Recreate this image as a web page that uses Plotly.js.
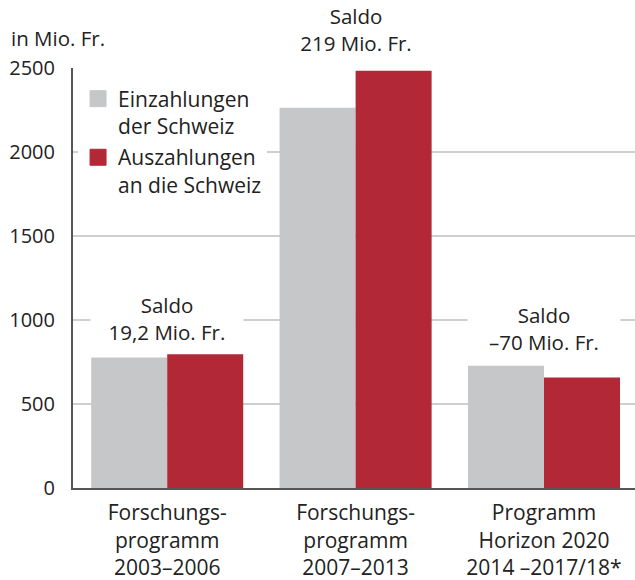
<!DOCTYPE html>
<html>
<head>
<meta charset="utf-8">
<script src="https://cdn.plot.ly/plotly-3.0.1.min.js"></script>
<style>html,body{margin:0;padding:0;background:#fff;}#chart{width:635px;height:580px;}</style>
</head>
<body>
<div id="chart"></div>
<script>
const categories = ['Forschungs-<br>programm<br>2003–2006', 'Forschungs-<br>programm<br>2007–2013', 'Programm<br>Horizon 2020<br>2014 –2017/18*'];
const einzahlungen = [777, 2264, 728];
const auszahlungen = [796, 2483, 658];
const saldoLabels = ['Saldo<br>19,2 Mio. Fr.', 'Saldo<br>219 Mio. Fr.', 'Saldo<br>–70 Mio. Fr.'];
const seriesNames = ['Einzahlungen<br>der Schweiz', 'Auszahlungen<br>an die Schweiz'];
const yTicks = [0, 500, 1000, 1500, 2000, 2500];

const GREY = '#c6c7c9';
const RED = '#b22836';
const TXT = '#222222';
const FONT = '"Open Sans", "DejaVu Sans", sans-serif';

const traces = [
  {type: 'bar', x: categories, y: einzahlungen, name: seriesNames[0], marker: {color: GREY}, showlegend: false, legendgroup: 'a', hoverinfo: 'y'},
  {type: 'bar', x: categories, y: auszahlungen, name: seriesNames[1], marker: {color: RED}, showlegend: false, legendgroup: 'b', hoverinfo: 'y'},
  {type: 'scatter', mode: 'markers', x: [null], y: [null], name: seriesNames[0], legendgroup: 'a', marker: {symbol: 'square', size: 16, color: GREY, line: {width: 1, color: GREY}}},
  {type: 'scatter', mode: 'markers', x: [null], y: [null], name: seriesNames[1], legendgroup: 'b', marker: {symbol: 'square', size: 16, color: RED, line: {width: 1, color: RED}}}
];

const yshifts = [6, 12, 8];
const annotations = categories.map((c, i) => ({
  x: c, y: Math.max(einzahlungen[i], auszahlungen[i]), xref: 'x', yref: 'y',
  yanchor: 'bottom', xanchor: 'center', yshift: yshifts[i],
  text: saldoLabels[i], showarrow: false, bgcolor: '#ffffff', width: 150, borderpad: 1,
  font: {family: FONT, size: 20.5, color: TXT}
}));

const layout = {
  width: 635, height: 580,
  margin: {l: 73, r: 0, t: 68, b: 91.5},
  paper_bgcolor: '#fff', plot_bgcolor: '#fff',
  font: {family: FONT, size: 21, color: TXT},
  title: {text: 'in Mio. Fr.', x: 11/635, xanchor: 'left', xref: 'container', y: 1 - 32/580, yanchor: 'top', yref: 'container', font: {family: FONT, size: 20.5, color: TXT}},
  barmode: 'group', bargap: 0.193, bargroupgap: 0,
  xaxis: {type: 'category', range: [-0.5, 2.483], showline: true, linecolor: '#555', linewidth: 2, showgrid: false, ticks: '', ticklabelstandoff: 5, tickfont: {family: FONT, size: 21, color: TXT}, fixedrange: true},
  yaxis: {range: [0, 2500], tickvals: yTicks, ticktext: yTicks.map(String), showline: true, linecolor: '#555', linewidth: 2, showgrid: true, gridcolor: '#cfcfcf', gridwidth: 1.5, zeroline: false, ticks: '', ticklabelstandoff: 12, tickfont: {family: FONT, size: 20, color: TXT}, fixedrange: true},
  showlegend: true,
  legend: {x: 0.009, xanchor: 'left', y: 0.975, yanchor: 'top', bgcolor: '#ffffff', borderwidth: 0, valign: 'top', tracegroupgap: 1, font: {family: FONT, size: 21, color: TXT}},
  annotations: annotations
};

Plotly.newPlot('chart', traces, layout, {displayModeBar: false, staticPlot: true});
</script>
</body>
</html>
